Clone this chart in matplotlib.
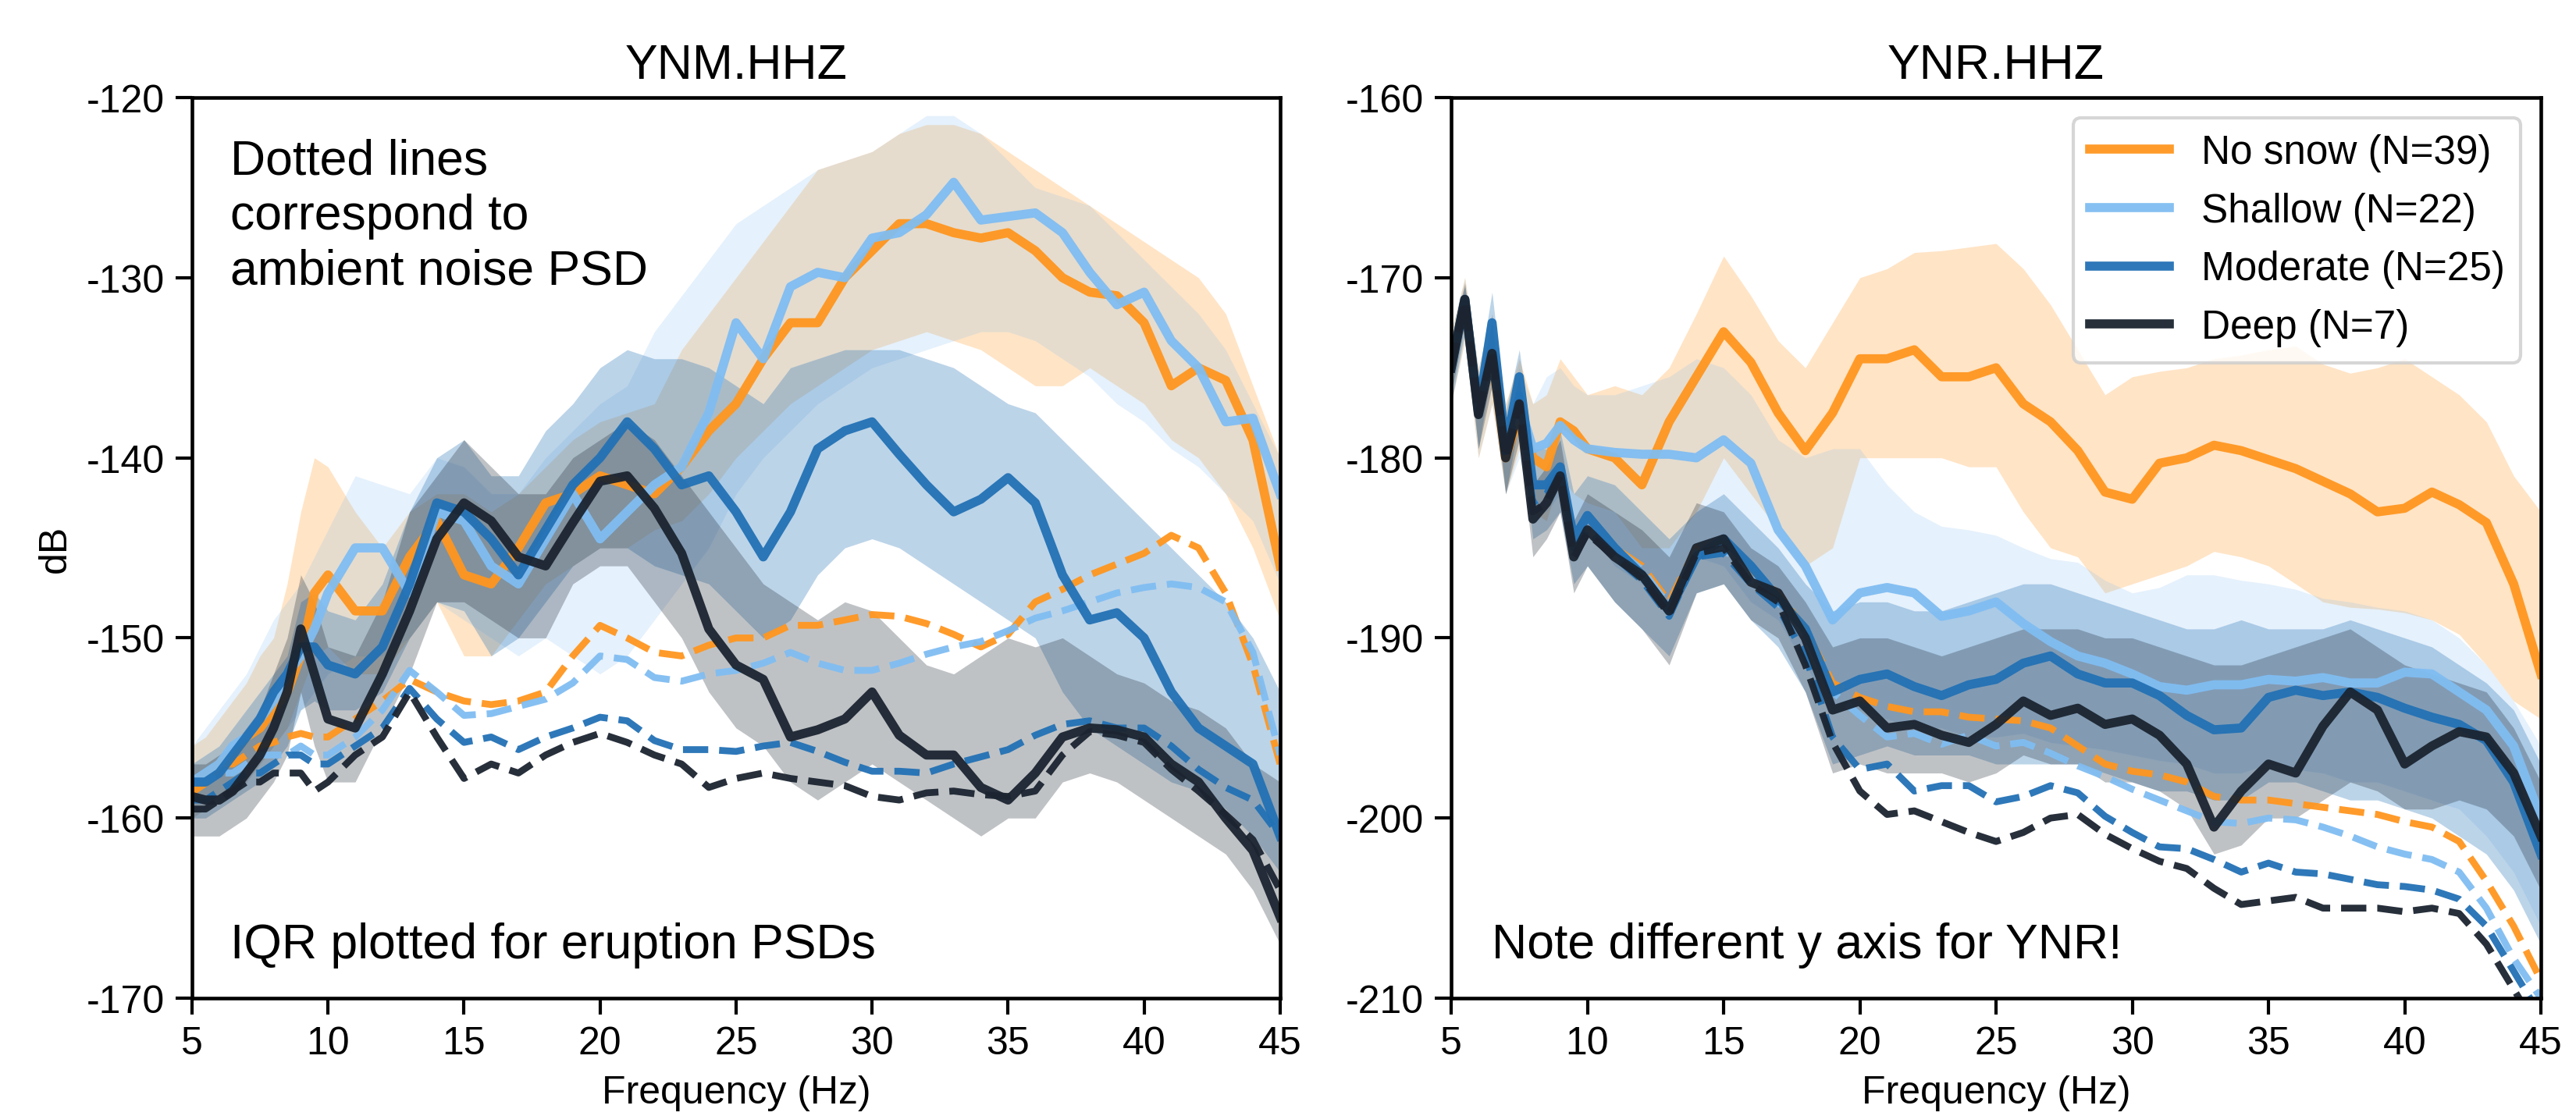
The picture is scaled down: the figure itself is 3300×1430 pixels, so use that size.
import matplotlib
matplotlib.use('Agg')
from matplotlib import pyplot as plt

plt.rcParams['font.family'] = ['Liberation Sans', 'DejaVu Sans']
plt.rcParams['axes.unicode_minus'] = False

# frequency grid (Hz), finer at the low end
freq = [5, 5.5, 6, 6.5, 7, 7.5, 8, 8.5, 9, 9.5, 10, 11, 12, 13, 14, 15, 16, 17, 18, 19, 20,
        21, 22, 23, 24, 25, 26, 27, 28, 29, 30, 31, 32, 33, 34, 35, 36, 37, 38, 39, 40,
        41, 42, 43, 44, 45]

labels = ['No snow (N=39)', 'Shallow (N=22)', 'Moderate (N=25)', 'Deep (N=7)']
colors = ['#ff961f', '#80bdf2', '#2271b5', '#1b2430']

# ---- YNM.HHZ : eruption medians ----
ynm_nosnow = [-158.5, -158, -157, -156.5, -155.5, -155, -154, -153, -151, -147.5, -146.5,
              -148.5, -148.5, -145.5, -143.5, -146.5, -147, -145, -142.5, -142, -141, -141.5,
              -142, -140.5, -138.5, -137, -134.5, -132.5, -132.5, -130, -128.5, -127, -127,
              -127.5, -127.8, -127.5, -128.5, -130, -130.8, -131, -132.5, -136, -135, -135.7,
              -139, -146]
ynm_shallow = [-158, -157.5, -157, -156, -155.5, -154.5, -153.5, -152, -151, -149.5, -147.5,
               -145, -145, -147.5, -143, -143.5, -146, -147, -144.5, -142, -144.5, -143,
               -141.5, -140.5, -137.5, -132.5, -134.5, -130.5, -129.7, -130, -127.8, -127.5,
               -126.5, -124.7, -126.8, -126.6, -126.4, -127.5, -129.7, -131.5, -130.8, -133.5,
               -135, -138, -137.8, -142]
ynm_moderate = [-158, -158, -157.5, -156.5, -155.5, -154.5, -153, -152, -150.5, -150.5, -151.5,
                -152, -150.5, -147, -142.5, -143, -144.5, -146.5, -144, -141.5, -140, -138,
                -139.5, -141.5, -141, -143, -145.5, -143, -139.5, -138.5, -138, -139.8, -141.5,
                -143, -142.3, -141.1, -142.5, -146.5, -149, -148.6, -150, -153, -155, -156,
                -157, -161]
ynm_deep = [-158.8, -159, -159, -158.5, -157.5, -156.5, -155, -153, -149.5, -152, -154.5,
            -155, -152, -148.5, -144.5, -142.5, -143.5, -145.5, -146, -143.6, -141.3, -141,
            -142.8, -145.3, -149.5, -151.5, -152.3, -155.5, -155.1, -154.5, -153, -155.4,
            -156.5, -156.5, -158.3, -159, -157.5, -155.5, -155, -155.1, -155.5, -157, -158,
            -160, -161.8, -165.5]

# ---- YNM.HHZ : ambient noise medians (dashed) ----
ynm_nosnow_amb = [-158, -157.5, -157, -157, -156.5, -156, -155.8, -155.5, -155.3, -155.5, -155.5,
                  -154.5, -153.5, -152.3, -153, -153.5, -153.7, -153.5, -153, -151, -149.3,
                  -150, -150.8, -151, -150.4, -150, -150, -149.3, -149.3, -149, -148.7, -148.8,
                  -149.2, -149.8, -150.5, -149.8, -148, -147.3, -146.5, -145.9, -145.3, -144.3,
                  -145, -147.5, -151.5, -157]
ynm_shallow_amb = [-158, -158, -157.5, -157.5, -157, -156.5, -156.5, -156.5, -156, -156.5, -156.5,
                   -155.5, -154, -151.8, -153, -154.3, -154.2, -153.8, -153.4, -152.5, -151,
                   -151.2, -152.2, -152.4, -152, -151.8, -151.4, -150.8, -151.4, -151.8, -151.8,
                   -151.4, -150.9, -150.5, -150.2, -149.6, -148.9, -148.5, -148, -147.5, -147.2,
                   -147, -147.2, -148, -150.8, -156.5]
ynm_moderate_amb = [-159, -159, -158.5, -158, -157.5, -157.5, -157, -156.5, -156.5, -157, -157,
                    -156, -155, -152.8, -154.5, -155.8, -155.5, -156.2, -155.5, -155, -154.4,
                    -154.6, -155.7, -156.2, -156.2, -156.3, -156, -155.8, -156.3, -156.9, -157.4,
                    -157.4, -157.5, -157, -156.6, -156.2, -155.4, -154.8, -154.6, -155, -155,
                    -156, -157.3, -158.3, -159, -161]
ynm_deep_amb = [-159.5, -159.5, -159, -158.5, -158, -158, -157.5, -157.5, -157.5, -158.5, -158,
                -156.5, -155.5, -153, -155.5, -157.8, -157, -157.5, -156.5, -155.8, -155.3,
                -155.8, -156.5, -157, -158.3, -157.8, -157.5, -157.8, -158, -158.2, -158.8,
                -159, -158.6, -158.5, -158.7, -158.8, -158.5, -156.5, -155.2, -155.4, -155.8,
                -157.3, -158.5, -159.8, -161.2, -164]

# ---- YNM.HHZ : IQR bands ----
ynm_nosnow_hi = [-156, -155.5, -154.5, -153.5, -152.5, -151, -150, -147, -143, -140, -140.5,
                 -143, -145, -143, -142, -142, -143, -142, -140.5, -139, -138, -137.5, -137,
                 -134, -132, -130, -128, -126, -124, -123.5, -123, -122, -121.5, -121.5, -122,
                 -123, -124, -125, -126, -127, -128, -129, -130, -132, -136, -140]
ynm_nosnow_lo = [-160, -159.5, -159, -158.5, -158, -157, -156, -155, -153, -151, -150.5,
                 -152, -152, -150, -148, -151, -151, -149, -147, -146, -145, -145, -144,
                 -143.5, -142, -140, -138.5, -137, -136, -135, -134, -133.5, -133, -133.5,
                 -134, -135, -136, -136, -135, -136, -137, -139, -140, -142, -145, -149]
ynm_shallow_hi = [-156, -155, -154, -153, -152, -150.5, -149, -148, -147, -145.5, -144,
                  -141, -141.5, -142, -140, -140.5, -142, -142, -140, -138.5, -137, -136,
                  -133, -131, -129, -127, -126, -125, -124, -123.5, -123, -122, -121, -121,
                  -122, -123.5, -125, -125.5, -126, -127.5, -129, -130.5, -132, -134, -137, -140]
ynm_shallow_lo = [-160, -159.5, -159, -158.5, -158, -157, -156, -155, -154, -153, -152,
                  -151, -151, -150, -148, -149, -150, -151, -150, -151, -152, -151, -149, -147,
                  -145, -142, -140, -138.5, -137, -136, -135, -134.5, -134, -133.5, -133,
                  -133, -133.5, -134.5, -135.5, -137, -138, -139.5, -140.5, -142, -143.5, -147]
ynm_moderate_hi = [-157, -156.5, -156, -155, -154, -153, -152, -151, -148, -147.5, -148.5,
                   -149, -147, -143, -140, -139, -141, -141, -138.5, -137, -135, -134, -134.5,
                   -134.5, -135, -136, -137, -135, -134.5, -134, -134, -134, -134.5, -135,
                   -136, -137, -137.5, -139, -140.5, -142, -143.5, -145, -146.5, -148, -150, -153]
ynm_moderate_lo = [-160, -160, -159.5, -159, -158.5, -158, -157, -156, -154, -153.5, -154,
                   -154, -153, -150, -148, -148.5, -151, -150, -148, -146, -145, -145, -146,
                   -146.5, -147, -148.5, -150, -149, -146.5, -145, -144.5, -145, -146, -147,
                   -148, -149, -150, -153, -155, -156, -157, -158, -158.5, -159.5, -161, -163]
ynm_deep_hi = [-157, -157, -156.5, -156, -155, -154, -152, -150, -146.5, -148, -150.5,
               -151, -148, -143, -141, -139, -140.5, -142, -142, -140, -139, -138, -139, -141,
               -143, -145, -147, -148, -149, -148, -148.5, -150, -151.5, -152, -151, -150,
               -150.5, -150, -151, -152, -152.5, -153.5, -154, -155, -157, -158]
ynm_deep_lo = [-161, -161, -161, -160.5, -160, -159, -158, -156.5, -153, -156, -158,
               -158, -155, -152, -148, -148, -149, -150, -150, -147, -146, -146, -148, -150,
               -153, -155, -156, -158, -159, -158, -157, -158, -159, -160, -161, -160, -160,
               -158, -157.5, -158, -159, -160, -161, -162, -164, -167]

# ---- YNR.HHZ : eruption medians ----
ynr_nosnow = [-175, -171.3, -177.5, -174.3, -180, -177.5, -180, -180.5, -178, -178.5, -179.5,
              -180, -181.5, -178, -175.5, -173, -174.7, -177.5, -179.6, -177.5, -174.5, -174.5,
              -174, -175.5, -175.5, -175, -177, -178, -179.6, -181.9, -182.3, -180.3, -180,
              -179.3, -179.6, -180.1, -180.6, -181.3, -182, -183, -182.8, -181.9, -182.6,
              -183.6, -187, -192]
ynr_shallow = [-175, -171.3, -177.5, -174.3, -179.5, -177, -179.5, -179.2, -178.2, -179, -179.5,
               -179.7, -179.8, -179.8, -180, -179, -180.3, -184, -186, -189, -187.5, -187.2,
               -187.5, -188.8, -188.5, -188, -189.2, -190.2, -191, -191.4, -192, -192.7,
               -192.9, -192.6, -192.6, -192.3, -192.4, -192.2, -192.5, -192.5, -191.9, -192,
               -193, -194, -196, -200]
ynr_moderate = [-175, -171.2, -177.4, -172.5, -179.5, -175.5, -181.5, -181.5, -180.5, -184.5, -183.2,
                -185, -186.5, -188.5, -185.5, -184.5, -186, -187.8, -189.5, -193, -192.3, -192,
                -192.7, -193.2, -192.6, -192.3, -191.4, -191, -192, -192.5, -192.5, -193.2,
                -194.3, -195.1, -195, -193.3, -192.9, -193.2, -193, -193.3, -193.9, -194.4,
                -194.8, -195.7, -198, -202]
ynr_deep = [-175, -171.2, -177.6, -174.2, -180, -177, -183.4, -182.5, -181, -185.5, -184,
            -185.5, -186.5, -188.5, -185, -184.5, -186.9, -187.5, -190, -194, -193.5, -195,
            -194.8, -195.4, -195.8, -194.8, -193.5, -194.3, -193.9, -194.8, -194.5, -195.4,
            -197, -200.5, -198.5, -197, -197.5, -194.9, -193, -194, -197, -196, -195.2,
            -195.5, -197.5, -201]

# ---- YNR.HHZ : ambient noise medians (dashed) ----
ynr_nosnow_amb = [-175, -171.3, -177.5, -174, -180, -176.5, -182.5, -182, -180.5, -185, -183.8,
                  -185, -186, -188, -185, -184.8, -186.5, -187.5, -189.5, -192.5, -193.3,
                  -193.8, -194.1, -194.1, -194.4, -194.5, -194.6, -195, -196, -197, -197.4,
                  -197.6, -198, -198.8, -199, -199, -199.2, -199.4, -199.6, -199.8, -200.2,
                  -200.5, -201.3, -203.5, -206, -209]
ynr_shallow_amb = [-175, -171.3, -177.5, -174, -180, -176.5, -182.5, -182, -180.5, -185, -183.8,
                   -185, -186.2, -188.2, -185.2, -185, -186.7, -188, -190, -193, -194.3,
                   -195.5, -195.3, -195.9, -195.4, -196, -195.8, -196.4, -197.1, -197.7,
                   -198.4, -199, -199.6, -200.2, -200.3, -200, -200.1, -200.5, -201, -201.6,
                   -202, -202.3, -203, -205, -207.8, -210]
ynr_moderate_amb = [-175, -171.3, -177.5, -174, -180, -176.5, -182.5, -182, -180.5, -185, -184,
                    -185.5, -186.8, -188.8, -185.5, -185.3, -187, -188.3, -191, -195.5, -197.3,
                    -197, -198.5, -198.2, -198.2, -199.1, -198.8, -198.2, -198.6, -199.9,
                    -200.8, -201.6, -201.7, -202.3, -203, -202.5, -203, -203.1, -203.4,
                    -203.7, -203.8, -204, -204.5, -206, -208.5, -211]
ynr_deep_amb = [-175, -171.3, -177.6, -174, -180, -177, -183, -182.5, -181, -185.5, -184.2,
                -185.5, -186.7, -188.7, -185.3, -185, -187, -188, -191.5, -195.8, -198.5,
                -199.8, -199.6, -200.2, -200.8, -201.3, -200.8, -200, -199.8, -200.9, -201.7,
                -202.4, -202.8, -203.9, -204.8, -204.6, -204.4, -205, -205, -205, -205.2,
                -205, -205.3, -207, -209.5, -212]

# ---- YNR.HHZ : IQR bands ----
ynr_nosnow_hi = [-173, -170, -175, -172, -177, -174.5, -177, -176.5, -174.5, -175.5, -176.5,
                 -176, -176.5, -175, -172, -168.8, -171, -173.5, -175, -172.5, -170, -169.5,
                 -168.6, -168.5, -168.3, -168.1, -169.5, -171.5, -174, -176.5, -175.5, -175.2,
                 -175, -174.5, -174.3, -174, -173.8, -174.8, -175.3, -175, -174.5, -175.5,
                 -176.5, -178, -181, -183]
ynr_nosnow_lo = [-177, -173.5, -180, -177, -182, -179.5, -183, -183.5, -181, -182, -182.5,
                 -183, -185, -185, -183, -180, -182, -184, -186, -185, -180, -180, -180, -180,
                 -180.5, -180.5, -183, -185, -185.5, -187.5, -187, -186.5, -186, -185.2,
                 -185.5, -186, -187, -188, -188.3, -188.4, -188.6, -189, -189.8, -191.5,
                 -193.5, -194.5]
ynr_shallow_hi = [-173, -170, -175, -172, -177, -175, -177, -175.5, -175, -176, -176.5,
                  -176.5, -176, -175.5, -174.5, -175, -176.5, -179, -180, -179.5, -179.5,
                  -181.5, -183, -183.8, -184, -184.3, -185, -185.6, -185.8, -186.8, -187.5,
                  -187.2, -186.5, -186.5, -186.8, -187, -187.3, -187.8, -188, -188.3, -188.5,
                  -189, -190, -191.5, -193.5, -196]
ynr_shallow_lo = [-177, -173.5, -180, -177, -182, -180, -183, -183, -182, -184, -184,
                  -186, -187, -188, -185.5, -186, -188, -189, -191.5, -194, -194, -194.5, -195,
                  -195, -195.5, -195.5, -195.3, -195.8, -196, -196.2, -196.5, -196.8, -197,
                  -197.5, -197.5, -197, -197.3, -197.5, -198, -198, -198.5, -199, -199.5,
                  -201, -203, -206]
ynr_moderate_hi = [-173.5, -170.5, -175.5, -170.8, -177.5, -174, -179.5, -179.5, -178.5, -182, -181,
                   -181.5, -183, -184.5, -183, -182, -183.5, -185, -187, -188.5, -188, -188,
                   -188.5, -188.5, -188, -187.5, -187, -187, -187.5, -188, -188.5, -189,
                   -189.5, -189.5, -189, -189.5, -189.5, -189.5, -189, -189.5, -190, -190.5,
                   -191.5, -192.5, -194, -197]
ynr_moderate_lo = [-177, -173, -179.5, -175, -182, -178, -184.5, -184, -183, -187, -186,
                   -188, -189.5, -191, -187.5, -187, -189, -190.5, -193, -197, -196.5, -196,
                   -196.5, -196.5, -196.5, -197, -197, -197, -197, -197.5, -198, -198.5,
                   -198.5, -199, -199, -198, -198, -198.5, -199, -199, -199.5, -200, -201,
                   -202, -204, -207]
ynr_deep_hi = [-173.5, -170.3, -176, -172.5, -178.5, -175.5, -181.5, -180.5, -179, -183.5, -182,
               -183, -184, -185.5, -182.5, -183, -185, -186, -188, -190.5, -190, -190, -190.5,
               -191, -190.5, -190, -189.5, -189.5, -189.5, -190, -190, -190.5, -191, -191.5,
               -191.5, -191, -190.5, -190, -189.5, -190.5, -191.5, -192, -192.5, -193, -195,
               -198]
ynr_deep_lo = [-176.5, -172.5, -179.5, -176, -182, -179, -185.5, -184.5, -183, -187.5, -186,
               -188, -189.5, -191.5, -187.5, -187, -189, -190, -193, -197.5, -197, -197.5,
               -197.5, -197.5, -198, -197.5, -196.5, -197, -197, -198, -198, -198.5, -199.5,
               -202, -201.5, -200, -200, -199, -198, -198.5, -199.5, -199.5, -199, -199.5,
               -201, -204]

band_alpha = [0.25, 0.2, 0.3, 0.28]

fig = plt.figure(figsize=(11.003, 4.77), dpi=300)
ax1 = fig.add_axes([0.0745, 0.1055, 0.4223, 0.8064])
ax2 = fig.add_axes([0.5632, 0.1055, 0.4229, 0.8064])


def draw_station(ax, med, amb, lo, hi):
    for i in range(4):
        ax.fill_between(freq, lo[i], hi[i], color=colors[i], alpha=band_alpha[i], lw=0)
        ax.plot(freq, med[i], color=colors[i], lw=2.8, alpha=0.95, label=labels[i])
        ax.plot(freq, amb[i], color=colors[i], lw=2.1, ls='--', alpha=0.95)


draw_station(ax1,
             [ynm_nosnow, ynm_shallow, ynm_moderate, ynm_deep],
             [ynm_nosnow_amb, ynm_shallow_amb, ynm_moderate_amb, ynm_deep_amb],
             [ynm_nosnow_lo, ynm_shallow_lo, ynm_moderate_lo, ynm_deep_lo],
             [ynm_nosnow_hi, ynm_shallow_hi, ynm_moderate_hi, ynm_deep_hi])
draw_station(ax2,
             [ynr_nosnow, ynr_shallow, ynr_moderate, ynr_deep],
             [ynr_nosnow_amb, ynr_shallow_amb, ynr_moderate_amb, ynr_deep_amb],
             [ynr_nosnow_lo, ynr_shallow_lo, ynr_moderate_lo, ynr_deep_lo],
             [ynr_nosnow_hi, ynr_shallow_hi, ynr_moderate_hi, ynr_deep_hi])

note_size = 15

ax1.set_xlim(5, 45)
ax1.set_ylim(-170, -120)
ax1.set_title('YNM.HHZ', fontsize=15)
ax1.set_ylabel('dB', fontsize=12)
ax1.set_xlabel('Frequency (Hz)', fontsize=12)
ax1.text(0.035, 0.955, 'Dotted lines\ncorrespond to\nambient noise PSD', transform=ax1.transAxes,
         fontsize=note_size, va='top', ha='left', linespacing=1.25)
ax1.text(0.035, 0.045, 'IQR plotted for eruption PSDs', transform=ax1.transAxes,
         fontsize=note_size, va='baseline', ha='left')

ax2.set_xlim(5, 45)
ax2.set_ylim(-210, -160)
ax2.set_title('YNR.HHZ', fontsize=15)
ax2.set_xlabel('Frequency (Hz)', fontsize=12)
ax2.text(0.037, 0.045, 'Note different y axis for YNR!', transform=ax2.transAxes,
         fontsize=note_size, va='baseline', ha='left')
ax2.legend(loc='upper right', fontsize=12.3)

for ax in (ax1, ax2):
    ax.set_xticks([5, 10, 15, 20, 25, 30, 35, 40, 45])
    ax.tick_params(labelsize=12, width=1, length=5)
    for sp in ax.spines.values():
        sp.set_linewidth(1.1)

plt.savefig('out.png', dpi=300)
